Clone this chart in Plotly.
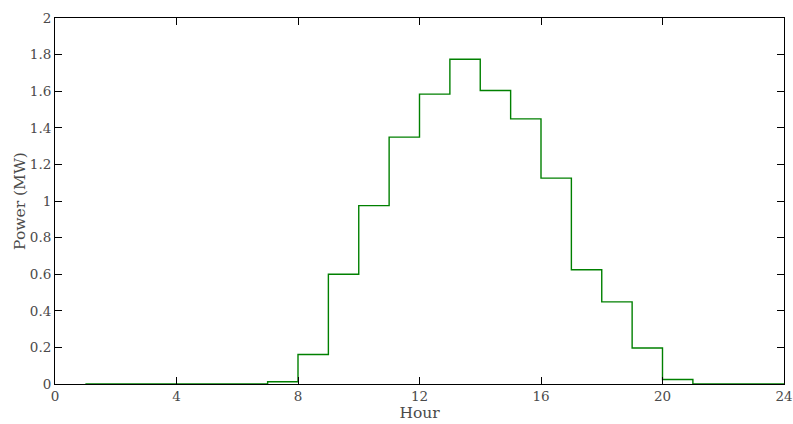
import plotly.graph_objects as go

hours = list(range(1, 25))
power_mw = [0, 0, 0, 0, 0, 0, 0.012, 0.161, 0.600, 0.975, 1.349, 1.584,
            1.775, 1.604, 1.449, 1.125, 0.624, 0.449, 0.197, 0.025, 0, 0, 0, 0]
x_ticks = [0, 4, 8, 12, 16, 20, 24]
y_ticks = [0, 0.2, 0.4, 0.6, 0.8, 1, 1.2, 1.4, 1.6, 1.8, 2]
y_tick_labels = ["0", "0.2", "0.4", "0.6", "0.8", "1", "1.2", "1.4", "1.6", "1.8", "2"]

fig = go.Figure()
fig.add_trace(go.Scatter(
    x=hours, y=power_mw, mode="lines", line_shape="hv",
    line=dict(color="#008000", width=1.4), showlegend=False,
))

font = dict(family="DejaVu Serif", size=13.5, color="#4a4a4a")
title_font = dict(family="DejaVu Serif", size=15.5, color="#4a4a4a")
axis_common = dict(
    showline=True, linecolor="#000000", linewidth=1, mirror="ticks",
    ticks="inside", ticklen=7, tickcolor="#000000", tickwidth=1,
    showgrid=False, zeroline=False, tickfont=font, automargin=False,
)
fig.update_xaxes(range=[0, 24], tickvals=x_ticks,
                 title=dict(text="Hour", font=title_font, standoff=1), **axis_common)
fig.update_yaxes(range=[0, 2], tickvals=y_ticks, ticktext=y_tick_labels,
                 title=dict(text="Power (MW)", font=title_font, standoff=0), **axis_common)

fig.update_layout(
    width=793, height=424,
    margin=dict(l=55, r=9, t=18, b=40),
    plot_bgcolor="white", paper_bgcolor="white",
)
fig.write_html("out.html")
